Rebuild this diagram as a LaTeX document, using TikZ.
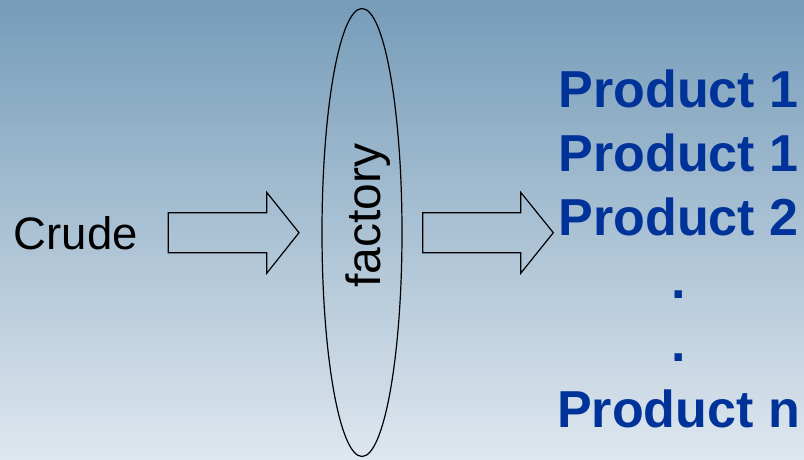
\documentclass[tikz,border=0pt]{standalone}
\usepackage{fontspec}
\setmainfont{Liberation Sans}
\usetikzlibrary{shapes.geometric}

\definecolor{skytop}{RGB}{118,156,185}
\definecolor{skymid}{RGB}{160,189,206}
\definecolor{skybottom}{RGB}{222,231,239}
\definecolor{prodblue}{RGB}{0,51,153}

\tikzset{
  plainlabel/.style={inner sep=0pt, font=\fontsize{45.5pt}{54pt}\selectfont, text=black},
  prodlabel/.style={inner sep=0pt, anchor=base, font=\fontsize{52pt}{62pt}\selectfont\bfseries, text=prodblue},
  blockarrow/.style={draw=black, line width=1.2pt, line join=miter},
  vessel/.style={ellipse, draw=black, line width=1.2pt, inner sep=0pt,
                 minimum width=80pt, minimum height=448pt}
}

\begin{document}
\begin{tikzpicture}[x=1pt, y=1pt]
  % canvas and sky gradient
  \useasboundingbox (0,0) rectangle (804,459);
  \clip (0,0) rectangle (804,459);
  \shade[top color=skytop, middle color=skymid, bottom color=skybottom]
    (0,0) rectangle (804,459);

  % input label
  \node[plainlabel, anchor=base west] (crude) at (13.5,209.5) {Crude};

  % input block arrow
  \draw[blockarrow] (168.3,246.3) -- (266.7,246.3) -- (266.7,266.7) -- (299,226.3)
    -- (266.7,185.7) -- (266.7,206.3) -- (168.3,206.3) -- cycle;

  % factory vessel with vertical label
  \node[vessel] (factory) at (362,226.5) {};
  \node[plainlabel, font=\fontsize{48pt}{56pt}\selectfont, rotate=90, anchor=base west]
    (factorytext) at (380,171) {factory};

  % output block arrow
  \draw[blockarrow] (422.7,246.3) -- (520.7,246.3) -- (520.7,266.7) -- (553.3,226.3)
    -- (520.7,185.7) -- (520.7,206.3) -- (422.7,206.3) -- cycle;

  % products list
  \node[prodlabel] (p1)  at (678.5,351)   {Product 1};
  \node[prodlabel] (p1b) at (678.5,287.5) {Product 1};
  \node[prodlabel] (p2)  at (678.5,224)   {Product 2};
  \node[prodlabel] (d1)  at (678.5,161)   {.};
  \node[prodlabel] (d2)  at (678.5,97.5)  {.};
  \node[prodlabel] (pn)  at (678.5,32)    {Product n};
\end{tikzpicture}
\end{document}
